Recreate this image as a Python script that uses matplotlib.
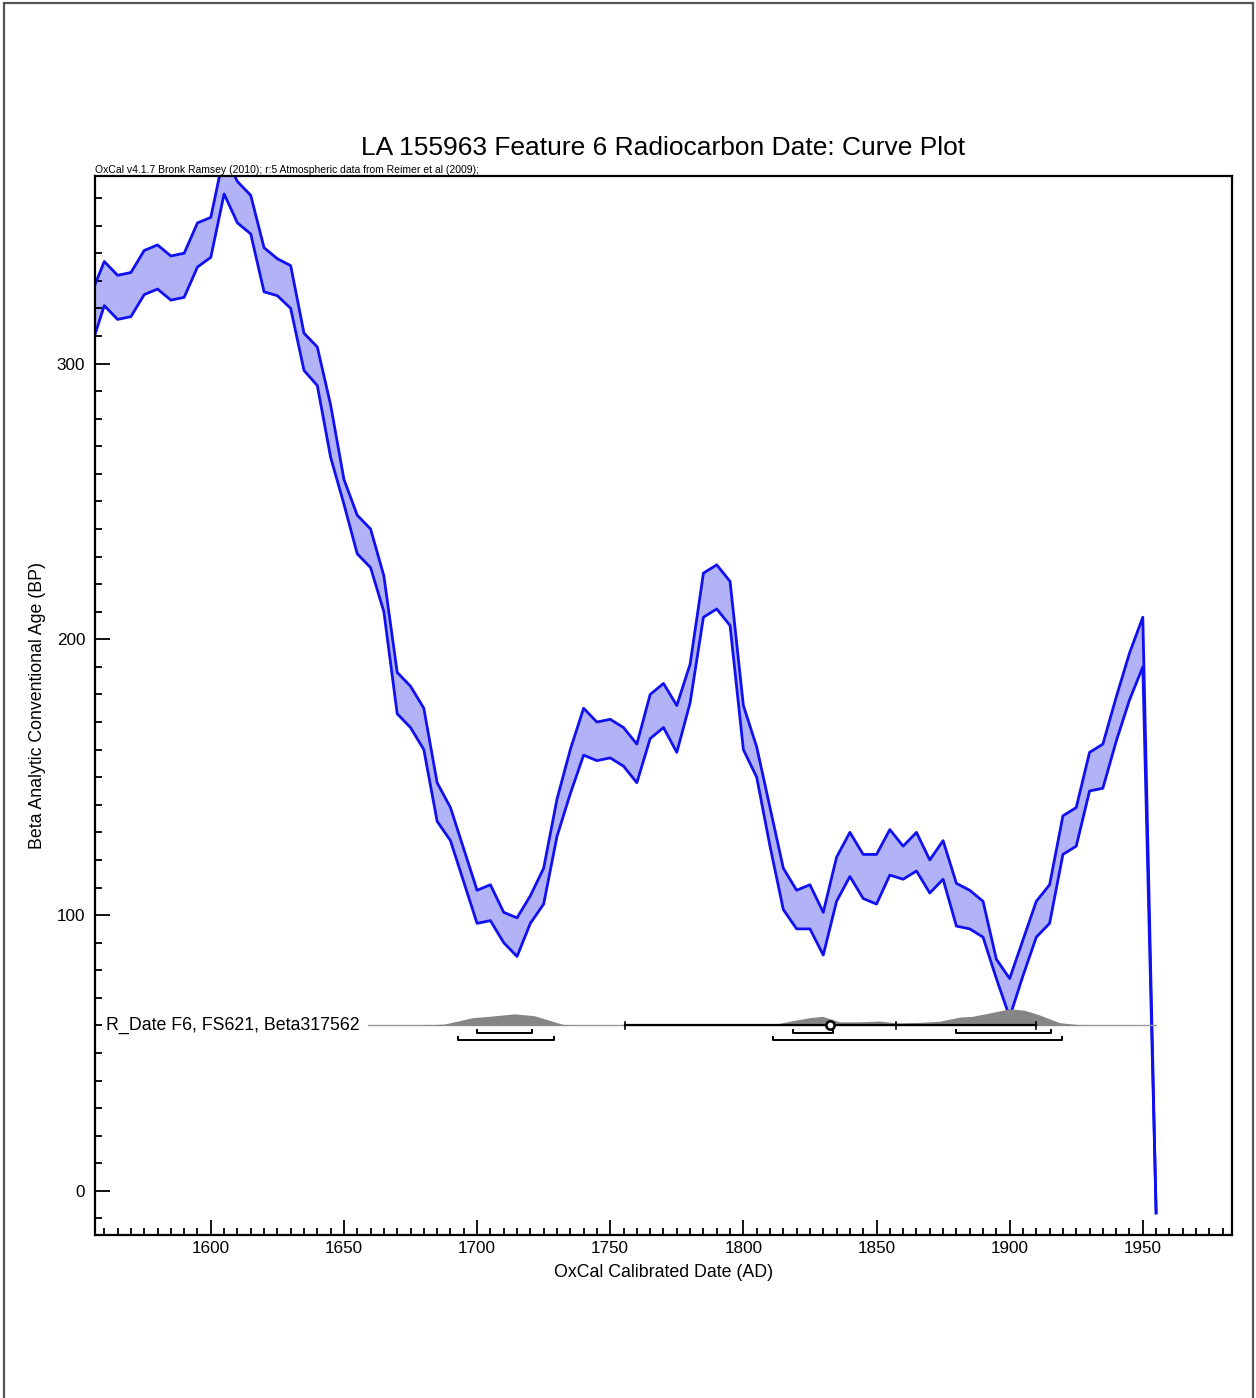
import matplotlib
matplotlib.use('Agg')
import matplotlib.pyplot as plt
from matplotlib.patches import Rectangle
from matplotlib.ticker import MultipleLocator
import numpy as np

plt.rcParams['font.family'] = ['Liberation Sans', 'DejaVu Sans']

# calibration curve (5 year grid), upper / lower edge of the 1 sigma band
years = list(range(1555, 1960, 5))
upper = [325, 337, 332, 333, 341, 343, 339, 340, 351, 353,
         376, 366, 361, 342, 338, 335.5, 311, 306, 285, 258,
         245, 240, 223, 188, 183, 175, 148, 139, 124, 109,
         111, 101, 99, 107, 117, 142, 160, 175, 170, 171,
         168, 162, 180, 184, 176, 191, 224, 227, 221, 176,
         161, 139, 117, 109, 111, 101, 121, 130, 122, 122,
         131, 125, 130, 120, 127, 111.5, 109, 105, 84, 77,
         91, 105, 111, 136, 139, 159, 162, 179, 195, 208, -8]
lower = [306, 321, 316, 317, 325, 327, 323, 324, 335, 338.5,
         361.5, 351, 347, 326, 324.6, 320, 297.5, 292, 266, 249,
         231, 226, 210, 173, 168, 160, 134, 127, 112, 97,
         98, 90, 85, 97, 104, 128.5, 144, 158, 156, 157,
         154, 148, 164, 168, 159, 177, 208, 211, 205, 160,
         150, 125, 102, 95, 95, 85.5, 105, 114, 106, 104,
         114.5, 113, 116, 108, 113, 96, 95, 92, 77, 63,
         78, 92, 97, 122, 125, 145, 146, 163, 178, 190, -8]

# calibrated probability distribution of the date
dist_years_a = [1678.5, 1687.8, 1698.3, 1704.7, 1714.1, 1721.6, 1727.3, 1732.1, 1736.6]
dist_prob_a = [0, 0.5, 2.8, 3.3, 4.2, 3.5, 1.8, 0.4, 0]
dist_years_b = [1809.8, 1817.3, 1824.8, 1829.7, 1836.1, 1843.6, 1851.1, 1857.5, 1866.1,
                1873.6, 1881.2, 1886.0, 1892.4, 1899.9, 1905.6, 1911.2, 1918.7, 1928.8]
dist_prob_b = [0, 1.5, 2.8, 3.3, 1.3, 1.3, 1.6, 0.9, 1.1,
               1.5, 3.0, 3.3, 4.5, 6.0, 5.5, 3.8, 1.0, 0]

range_68 = [(1699.8, 1720.5), (1818.5, 1833.5), (1880.0, 1915.7)]
range_95 = [(1692.7, 1728.8), (1811.0, 1919.8)]
sigma_span = (1755.4, 1909.8)
median_year = 1857.4
mean_year = 1832.6

date_label = 'R_Date F6, FS621, Beta317562'
date_row = 60

fig = plt.figure(figsize=(12.56, 13.98), dpi=100)
ax = fig.add_axes([0.0756, 0.1166, 0.9053, 0.7575])

# page border
fig.patches.append(Rectangle((4 / 1256, -0.01), 1249 / 1256, 1.01 - 3 / 1398,
                             transform=fig.transFigure, fill=False,
                             edgecolor='#555555', linewidth=1.6))

# curve band
ax.fill_between(years, lower, upper, color='#b2b2f6', linewidth=0)
ax.plot(years, upper, color='#1010f0', linewidth=2)
ax.plot(years, lower, color='#1010f0', linewidth=2)

# date row
ax.plot([1659, 1955], [date_row, date_row], color='#999999', linewidth=1, zorder=3)
ax.fill_between(dist_years_a, date_row, np.array(dist_prob_a) + date_row,
                color='#858585', linewidth=0, zorder=3)
ax.fill_between(dist_years_b, date_row, np.array(dist_prob_b) + date_row,
                color='#858585', linewidth=0, zorder=3)
ax.plot(sigma_span, [date_row, date_row], color='black', linewidth=1.6, zorder=4)
for yr in [sigma_span[0], median_year, sigma_span[1]]:
    ax.plot([yr, yr], [date_row - 1.3, date_row + 1.3], color='black', linewidth=1.2, zorder=4)
ax.plot(mean_year, date_row, 'o', markersize=6, markerfacecolor='white',
        markeredgecolor='black', markeredgewidth=1.8, zorder=5)

for row_y, ranges in [(date_row - 2.6, range_68), (date_row - 5.3, range_95)]:
    for a, b in ranges:
        ax.plot([a, a, b, b], [row_y + 1.1, row_y, row_y, row_y + 1.1],
                color='black', linewidth=1.4, zorder=4)

ax.text(1560.6, date_row, date_label, fontsize=12.8, va='center', ha='left', zorder=6)

ax.set_xlim(1556.5, 1983.5)
ax.set_ylim(-16, 368)
ax.xaxis.set_major_locator(MultipleLocator(50))
ax.xaxis.set_minor_locator(MultipleLocator(5))
ax.yaxis.set_major_locator(MultipleLocator(100))
ax.yaxis.set_minor_locator(MultipleLocator(10))
ax.tick_params(which='both', direction='in', top=False, right=False, labelsize=12.3, width=1.3)
ax.tick_params(axis='x', which='major', length=11, pad=4)
ax.tick_params(axis='x', which='minor', length=5)
ax.tick_params(axis='y', which='major', length=11, pad=7)
ax.tick_params(axis='y', which='minor', length=5)
for sp in ax.spines.values():
    sp.set_linewidth(1.6)

ax.set_xlabel('OxCal Calibrated Date (AD)', fontsize=12.8, labelpad=6)
ax.set_ylabel('Beta Analytic Conventional Age (BP)', fontsize=12.8, labelpad=8)
ax.set_title('LA 155963 Feature 6 Radiocarbon Date: Curve Plot', fontsize=19, pad=15)
ax.text(0, 1.001, 'OxCal v4.1.7 Bronk Ramsey (2010); r:5 Atmospheric data from Reimer et al (2009);',
        transform=ax.transAxes, fontsize=7.5, ha='left', va='bottom')

fig.savefig('out.png', dpi=100)
